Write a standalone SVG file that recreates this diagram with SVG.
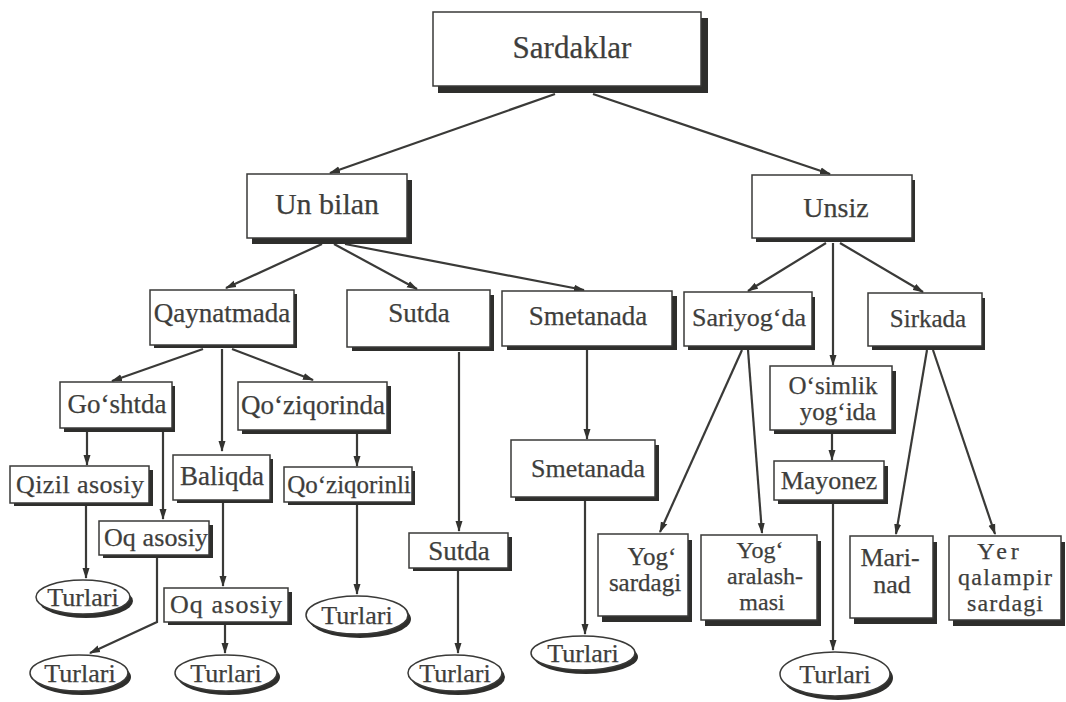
<svg xmlns="http://www.w3.org/2000/svg" width="1066" height="702" viewBox="0 0 1066 702">
<defs>
<marker id="ah" markerUnits="userSpaceOnUse" markerWidth="11" markerHeight="8" refX="10" refY="4" orient="auto">
<path d="M0,0.5 L11,4 L0,7.5 z" fill="#333330"/>
</marker>
<style>
.sh{fill:#2e2e2c}
.bx{fill:#fff;stroke:#3a3a38;stroke-width:1.5}
.t{font-family:"Liberation Serif","Times New Roman",serif;fill:#3e3e3c;stroke:#3e3e3c;stroke-width:0.25;text-anchor:middle}
.c{fill:none;stroke:#3a3a38;stroke-width:2.2;marker-end:url(#ah)}
</style>
</defs>
<rect width="1066" height="702" fill="#fff"/>
<g id="connectors">
<path class="c" d="M555,94 L330,173"/>
<path class="c" d="M593,94 L830,174"/>
<path class="c" d="M322,244 L226,288"/>
<path class="c" d="M334,244 L417,289"/>
<path class="c" d="M345,244 L584,290"/>
<path class="c" d="M826,243 L748,291"/>
<path class="c" d="M840,243 L923,292"/>
<path class="c" d="M833,243 L833,365"/>
<path class="c" d="M203,349 L112,381"/>
<path class="c" d="M222,349 L222,451"/>
<path class="c" d="M232,349 L313,380"/>
<path class="c" d="M87,432 L87,465"/>
<path class="c" d="M163,432 L163,519"/>
<path class="c" d="M357,434 L357,466"/>
<path class="c" d="M86,506 L86,578"/>
<path class="c" d="M157,558 L157,622 L90,653"/>
<path class="c" d="M223,503 L223,586"/>
<path class="c" d="M225,625 L225,653"/>
<path class="c" d="M357,505 L357,594"/>
<path class="c" d="M459,352 L459,531"/>
<path class="c" d="M458,571 L458,653"/>
<path class="c" d="M587,349 L587,439"/>
<path class="c" d="M585,500 L585,634"/>
<path class="c" d="M742,350 L660,532"/>
<path class="c" d="M748,350 L762,533"/>
<path class="c" d="M832,433 L832,460"/>
<path class="c" d="M833,504 L833,650"/>
<path class="c" d="M927,350 L896,534"/>
<path class="c" d="M933,350 L995,534"/>
</g>
<g id="n-sardaklar"><rect class="sh" x="438" y="18" width="270" height="75"/><rect class="bx" x="433" y="12" width="268" height="74"/><text class="t" x="572" y="58" font-size="31">Sardaklar</text></g>
<g id="n-unbilan"><rect class="sh" x="252" y="180" width="160" height="64"/><rect class="bx" x="247" y="174" width="160" height="64"/><text class="t" x="327" y="214" font-size="30">Un bilan</text></g>
<g id="n-unsiz"><rect class="sh" x="756" y="180" width="159" height="62"/><rect class="bx" x="752" y="175" width="160" height="63"/><text class="t" x="836" y="217" font-size="28">Unsiz</text></g>
<g id="n-qaynatmada"><rect class="sh" x="154" y="294" width="143" height="54"/><rect class="bx" x="150" y="290" width="144" height="55"/><text class="t" x="222" y="322" font-size="27">Qaynatmada</text></g>
<g id="n-sutda1"><rect class="sh" x="352" y="295" width="142" height="56"/><rect class="bx" x="347" y="290" width="143" height="57"/><text class="t" x="419" y="322" font-size="27">Sutda</text></g>
<g id="n-smetanada1"><rect class="sh" x="507" y="296" width="170" height="54"/><rect class="bx" x="502" y="291" width="170" height="55"/><text class="t" x="588" y="325" font-size="27">Smetanada</text></g>
<g id="n-sariyogda"><rect class="sh" x="688" y="297" width="127" height="53"/><rect class="bx" x="684" y="292" width="128" height="54"/><text class="t" x="749" y="326" font-size="26">Sariyog‘da</text></g>
<g id="n-sirkada"><rect class="sh" x="872" y="298" width="113" height="52"/><rect class="bx" x="868" y="293" width="114" height="53"/><text class="t" x="928" y="327" font-size="25">Sirkada</text></g>
<g id="n-goshtda"><rect class="sh" x="64" y="386" width="111" height="46"/><rect class="bx" x="60" y="382" width="112" height="46"/><text class="t" x="117" y="413" font-size="27">Go‘shtda</text></g>
<g id="n-qoziqorinda"><rect class="sh" x="242" y="386" width="149" height="48"/><rect class="bx" x="238" y="382" width="149" height="48"/><text class="t" x="313" y="414" font-size="27">Qo‘ziqorinda</text></g>
<g id="n-qizil"><rect class="sh" x="14" y="470" width="139" height="36"/><rect class="bx" x="10" y="466" width="139" height="37"/><text class="t" x="80" y="493" font-size="26" textLength="128">Qizil asosiy</text></g>
<g id="n-baliqda"><rect class="sh" x="177" y="459" width="96" height="44"/><rect class="bx" x="173" y="455" width="97" height="45"/><text class="t" x="222" y="485" font-size="27">Baliqda</text></g>
<g id="n-qoziqorinli"><rect class="sh" x="288" y="471" width="127" height="34"/><rect class="bx" x="284" y="467" width="128" height="35"/><text class="t" x="349" y="493" font-size="25">Qo‘ziqorinli</text></g>
<g id="n-oq1"><rect class="sh" x="103" y="525" width="110" height="33"/><rect class="bx" x="99" y="521" width="110" height="34"/><text class="t" x="156" y="546" font-size="26" textLength="104">Oq asosiy</text></g>
<g id="n-oq2"><rect class="sh" x="168" y="592" width="124" height="33"/><rect class="bx" x="164" y="588" width="124" height="34"/><text class="t" x="226" y="613" font-size="26" textLength="112">Oq asosiy</text></g>
<g id="n-sutda2"><rect class="sh" x="413" y="537" width="99" height="34"/><rect class="bx" x="409" y="533" width="99" height="35"/><text class="t" x="459" y="560" font-size="27">Sutda</text></g>
<g id="n-smetanada2"><rect class="sh" x="515" y="445" width="144" height="56"/><rect class="bx" x="511" y="440" width="144" height="57"/><text class="t" x="588" y="477" font-size="26">Smetanada</text></g>
<g id="n-osimlik"><rect class="sh" x="774" y="371" width="122" height="63"/><rect class="bx" x="770" y="366" width="122" height="64"/><text class="t" x="833" y="394" font-size="25">O‘simlik</text><text class="t" x="838" y="420" font-size="25">yog‘ida</text></g>
<g id="n-mayonez"><rect class="sh" x="778" y="466" width="110" height="38"/><rect class="bx" x="774" y="461" width="110" height="39"/><text class="t" x="829" y="489" font-size="26">Mayonez</text></g>
<g id="n-yogsardagi"><rect class="sh" x="602" y="540" width="90" height="82"/><rect class="bx" x="598" y="534" width="90" height="82"/><text class="t" x="652" y="565" font-size="25">Yog‘</text><text class="t" x="645" y="591" font-size="25">sardagi</text></g>
<g id="n-aralash"><rect class="sh" x="705" y="541" width="116" height="85"/><rect class="bx" x="701" y="535" width="116" height="85"/><text class="t" x="760" y="558" font-size="24">Yog‘</text><text class="t" x="765" y="584" font-size="24">aralash-</text><text class="t" x="762" y="610" font-size="24">masi</text></g>
<g id="n-marinad"><rect class="sh" x="854" y="542" width="83" height="82"/><rect class="bx" x="850" y="536" width="83" height="82"/><text class="t" x="890" y="566" font-size="26">Mari-</text><text class="t" x="892" y="593" font-size="26">nad</text></g>
<g id="n-yer"><rect class="sh" x="953" y="542" width="112" height="84"/><rect class="bx" x="949" y="536" width="112" height="84"/><text class="t" x="1000" y="559" font-size="24" letter-spacing="4">Yer</text><text class="t" x="1005" y="585" font-size="24" textLength="94">qalampir</text><text class="t" x="1005" y="611" font-size="24" textLength="76">sardagi</text></g>
<g id="n-turlari1"><ellipse class="sh" cx="86" cy="601" rx="47" ry="17"/><ellipse class="bx" cx="83" cy="597" rx="47" ry="17"/><text class="t" x="83" y="606" font-size="26">Turlari</text></g>
<g id="n-turlari2"><ellipse class="sh" cx="82" cy="677" rx="49" ry="18"/><ellipse class="bx" cx="79" cy="673" rx="49" ry="18"/><text class="t" x="80" y="682" font-size="26">Turlari</text></g>
<g id="n-turlari3"><ellipse class="sh" cx="229" cy="677" rx="51" ry="18"/><ellipse class="bx" cx="226" cy="673" rx="51" ry="18"/><text class="t" x="226" y="682" font-size="26">Turlari</text></g>
<g id="n-turlari4"><ellipse class="sh" cx="360" cy="619" rx="51" ry="19"/><ellipse class="bx" cx="357" cy="615" rx="51" ry="19"/><text class="t" x="357" y="624" font-size="26">Turlari</text></g>
<g id="n-turlari5"><ellipse class="sh" cx="458" cy="677" rx="47" ry="18"/><ellipse class="bx" cx="455" cy="673" rx="47" ry="18"/><text class="t" x="455" y="682" font-size="26">Turlari</text></g>
<g id="n-turlari6"><ellipse class="sh" cx="586" cy="657" rx="52" ry="17"/><ellipse class="bx" cx="583" cy="653" rx="52" ry="17"/><text class="t" x="583" y="662" font-size="26">Turlari</text></g>
<g id="n-turlari7"><ellipse class="sh" cx="838" cy="678" rx="55" ry="22"/><ellipse class="bx" cx="835" cy="674" rx="55" ry="22"/><text class="t" x="835" y="683" font-size="26">Turlari</text></g>
</svg>
